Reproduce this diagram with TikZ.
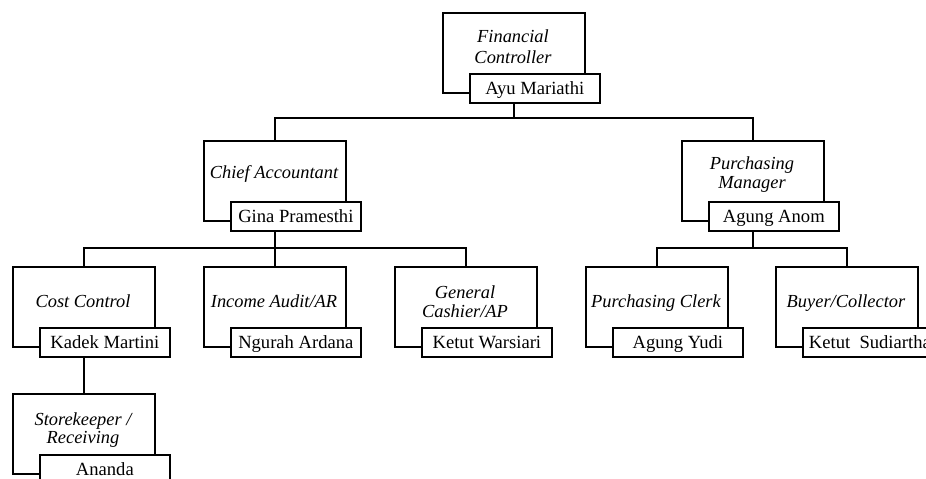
\documentclass[tikz,border=0pt]{standalone}
\usepackage{fontspec}
\setmainfont{Liberation Serif}
\newcommand\unitbox[4]{%
  \begin{scope}[shift={(#2,#3)}]
    \node[rolebox] (#1) at (0,0) {};
    \node[namebox] (#1n) at (27,61) {#4};
  \end{scope}}
\begin{document}
\begin{tikzpicture}[x=1pt,y=-1pt,line width=1.7pt,
  rolebox/.style={draw=black, fill=white, minimum width=142pt, minimum height=80pt, inner sep=0pt, anchor=north west},
  namebox/.style={draw=black, fill=white, minimum width=130pt, minimum height=29pt, inner sep=0pt, anchor=north west, text height=13pt, text depth=1pt, font=\fontsize{18.6}{20}\selectfont},
  roletext/.style={anchor=base, inner sep=0pt, font=\fontsize{18.4}{20}\selectfont\itshape},
  conn/.style={draw=black, line width=1.7pt}]
\useasboundingbox (0,0) rectangle (926,479);
\clip (0,0) rectangle (926,479);
\fill[white] (0,0) rectangle (926,479);
\coordinate (bus1) at (0,118);
\coordinate (bus2) at (0,248);
% level 0
\unitbox{fc}{442}{12}{Ayu Mariathi}
\node[roletext] (fct1) at (513,42) {Financial};
\node[roletext] (fct2) at (513,63) {Controller};
% level 1
\unitbox{ca}{203}{140}{Gina Pramesthi}
\node[roletext] (cat1) at (274,178) {Chief Accountant};
\unitbox{pm}{681}{140}{Agung Anom}
\node[roletext] (pmt1) at (752,169) {Purchasing};
\node[roletext] (pmt2) at (752,188) {Manager};
% level 2
\unitbox{cc}{12}{266}{Kadek Martini}
\node[roletext] (cct1) at (83,307) {Cost Control};
\unitbox{ia}{203}{266}{Ngurah Ardana}
\node[roletext] (iat1) at (274,307) {Income Audit/AR};
\unitbox{gc}{394}{266}{Ketut Warsiari}
\node[roletext] (gct1) at (465,298) {General};
\node[roletext] (gct2) at (465,317) {Cashier/AP};
\unitbox{pc}{585}{266}{Agung Yudi}
\node[roletext] (pct1) at (656,307) {Purchasing Clerk};
\unitbox{bc}{775}{266}{\hspace*{4pt}Ketut\ \ Sudiartha}
\node[roletext] (bct1) at (846,307) {Buyer/Collector};
% level 3
\unitbox{sk}{12}{393}{Ananda}
\node[roletext] (skt1) at (83,425) {Storekeeper /};
\node[roletext] (skt2) at (83,443) {Receiving};
% connectors
\draw[conn] (fc.south |- fcn.south) -- (fc.south |- bus1);
\draw[conn] (ca.north) -- (ca.north |- bus1) -- (pm.north |- bus1) -- (pm.north);
\draw[conn] (ca.south |- can.south) -- (ca.south |- bus2);
\draw[conn] (cc.north) -- (cc.north |- bus2) -- (gc.north |- bus2) -- (gc.north);
\draw[conn] (ia.north) -- (ia.north |- bus2);
\draw[conn] (pm.south |- pmn.south) -- (pm.south |- bus2);
\draw[conn] (pc.north) -- (pc.north |- bus2) -- (bc.north |- bus2) -- (bc.north);
\draw[conn] (cc.south |- ccn.south) -- (sk.north);
\end{tikzpicture}
\end{document}
